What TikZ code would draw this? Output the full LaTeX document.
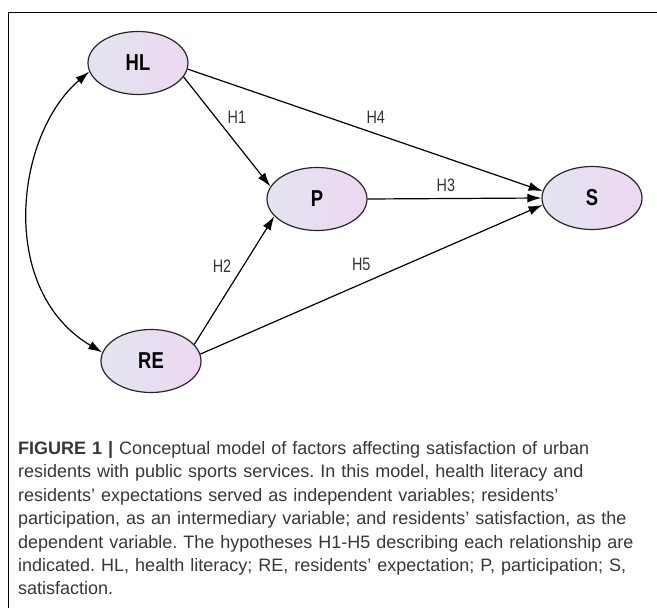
\documentclass[tikz,border=0pt]{standalone}
\usepackage{fontspec}
\setmainfont{Liberation Sans}
\newfontfamily\narrowsans[FakeStretch=0.8]{Liberation Sans}
\usepackage{tikz}
\usetikzlibrary{arrows.meta,shapes.geometric}
\definecolor{ellleft}{RGB}{226,229,240}
\definecolor{ellright}{RGB}{238,215,242}
\definecolor{captext}{RGB}{55,55,55}

\tikzset{
  latent/.style={ellipse, draw=black!85, line width=1.2pt,
    left color=ellleft, right color=ellright,
    minimum width=100pt, minimum height=63pt, inner sep=0pt,
    font=\narrowsans\bfseries\fontsize{23}{25}\selectfont},
  effect/.style={line width=1.2pt, ->},
  hyp/.style={font=\narrowsans\fontsize{18}{20}\selectfont, text=black!80},
  >={Latex[length=14pt,width=9pt]}
}

\begin{document}
\begin{tikzpicture}[x=1pt,y=-1pt]
        \useasboundingbox (0,0) rectangle (657,608);
        \draw[line width=0.9pt] (8,608) -- (8,12) -- (657,12);

        \node[latent] (HL) at (138,63) {HL};
        \node[latent] (P) at (317,199) {P};
        \node[latent] (S) at (592,198) {S};
        \node[latent] (RE) at (151,361) {RE};

        \draw[effect] (HL.-17) -- (P.165) node[pos=0.37, right=8pt, hyp]{H1};
        \draw[effect] (RE.21) -- (P.202) node[pos=0.61, left=8pt, hyp]{H2};
        \draw[effect] (P.east) -- (S.west) node[pos=0.45, above=3pt, hyp]{H3};
        \draw[effect] (HL.-7) -- (S.172) node[pos=0.53, above=6pt, hyp]{H4};
        \draw[effect] (RE.8) -- (S.188) node[pos=0.47, above=9pt, hyp]{H5};
        \draw[effect, <->] (HL.190) .. controls (15,135) and (-3,290) .. (RE.170);

        \node[anchor=north west, inner sep=0pt, text width=636pt, align=left,
          font=\fontsize{18}{23.4}\selectfont\frenchspacing, text=captext] (caption) at (18,438)
          {\strut\textbf{FIGURE 1 |} Conceptual model of factors affecting satisfaction of urban\\
           residents with public sports services. In this model, health literacy and\\
           residents’ expectations served as independent variables; residents’\\
           participation, as an intermediary variable; and residents’ satisfaction, as the\\
           dependent variable. The hypotheses H1-H5 describing each relationship are\\
           indicated. HL, health literacy; RE, residents’ expectation; P, participation; S,\\
           satisfaction.};
      \end{tikzpicture}
\end{document}
